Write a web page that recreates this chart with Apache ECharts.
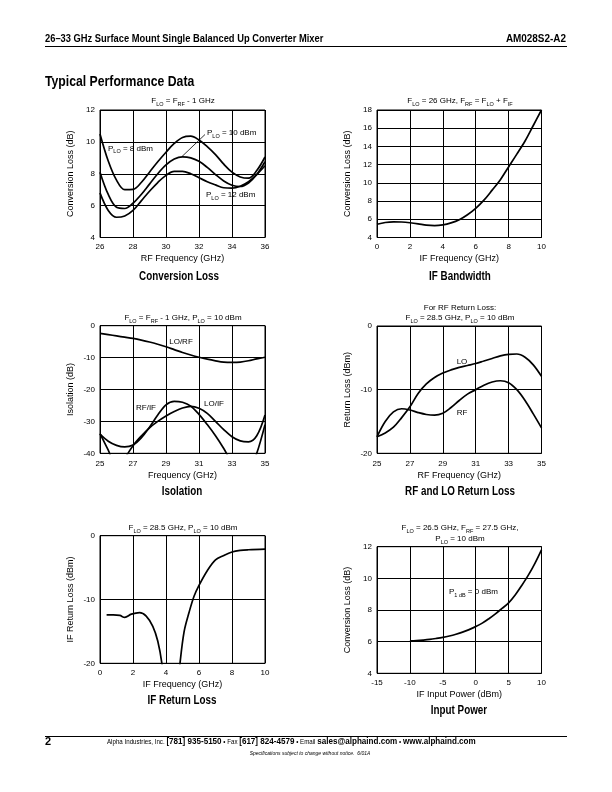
<!DOCTYPE html>
<html><head><meta charset="utf-8">
<script src="https://cdn.jsdelivr.net/npm/echarts@6/dist/echarts.min.js"></script>
<style>html,body{margin:0;padding:0;background:#fff}#c{width:612px;height:792px}</style>
</head><body><div id="c"></div>
<script>
// ---------- DATA ----------
// Conversion Loss vs RF frequency
const clFreq   = [26,26.5,27,27.5,28,28.5,29,29.5,30,30.5,31,31.5,32,32.5,33,33.5,34,34.5,35,35.5,36];
const clPlo8   = [10.5,8.8,7.6,7.0,7.02,7.45,8.1,8.75,9.35,9.9,10.28,10.36,10.12,9.7,9.2,8.6,8.1,7.8,7.72,8.2,9.05];
const clPlo10  = [8.1,6.7,5.9,5.82,6.15,6.7,7.35,8.0,8.55,8.92,9.06,9.0,8.78,8.4,7.95,7.55,7.28,7.2,7.42,7.95,8.75];
const clPlo12  = [6.8,5.7,5.27,5.35,5.7,6.3,6.9,7.45,7.9,8.15,8.15,8.0,7.75,7.5,7.3,7.12,7.1,7.22,7.5,7.95,8.5];
// IF bandwidth
const ifbFreq  = [0,0.5,1,1.5,2,2.5,3,3.5,4,4.5,5,5.5,6,6.5,7,7.5,8,8.5,9,9.5,10];
const ifbLoss  = [5.45,5.65,5.72,5.7,5.62,5.5,5.35,5.3,5.38,5.6,5.95,6.5,7.2,8.1,9.2,10.35,11.75,13.15,14.6,16.3,18.0];
// Isolation
const isoFreq  = [25,25.5,26,26.5,27,27.5,28,28.5,29,29.5,30,30.5,31,31.5,32,32.5,33,33.5,34,34.5,35];
const isoLoRf  = [-2.4,-2.8,-3.2,-3.6,-4.0,-4.5,-5.1,-5.8,-6.6,-7.5,-8.4,-9.2,-9.9,-10.5,-11.0,-11.4,-11.5,-11.4,-11.0,-10.4,-9.9];
const isoRfIf  = [-34.0,-36.2,-37.5,-38.0,-37.4,-35.2,-31.8,-28.0,-24.8,-23.7,-24.0,-25.2,-27.8,-31.0,-34.5,-38.5,-43,-46,-46,-40,-31];
const isoLoIf  = [-33.8,-39.0,-44.5,-41.5,-37.6,-34.6,-32.0,-30.0,-28.3,-26.9,-25.8,-25.3,-25.9,-27.5,-30.0,-32.6,-34.8,-36.1,-36.4,-34.5,-28.0];
// RF and LO return loss
const rlFreq   = [25,25.5,26,26.5,27,27.5,28,28.5,29,29.5,30,30.5,31,31.5,32,32.5,33,33.5,34,34.5,35];
const rlLo     = [-17.4,-16.8,-15.9,-14.4,-12.7,-10.6,-9.1,-8.1,-7.4,-6.9,-6.5,-6.2,-5.9,-5.5,-5.1,-4.7,-4.45,-4.4,-4.9,-6.1,-7.9];
const rlRf     = [-17.4,-15.0,-13.5,-13.0,-13.2,-13.6,-13.9,-14.0,-13.7,-12.8,-11.7,-10.7,-10.0,-9.3,-8.8,-8.6,-8.9,-10.0,-11.7,-13.8,-16.0];
// IF return loss
const ifrlFreq = [0.4,0.8,1.2,1.5,1.9,2.4,2.8,3.2,3.5,3.75,4.0,4.3,4.6,4.85,5.1,5.4,5.7,6.0,6.5,7.0,7.5,8.0,8.5,9.0,10.0];
const ifrlLoss = [-12.4,-12.4,-12.5,-12.8,-12.3,-12.05,-12.6,-14.2,-16.5,-20,-26,-30,-27,-20,-15,-12,-9.5,-7.8,-5.5,-3.8,-3.1,-2.55,-2.3,-2.2,-2.1];
// Input power
const ipPower  = [-10,-9,-8,-7,-6,-5,-4,-3,-2,-1,0,1,2,3,4,5,6,7,8,9,10];
const ipLoss   = [6.05,6.07,6.1,6.14,6.2,6.27,6.36,6.47,6.6,6.76,6.95,7.17,7.45,7.76,8.1,8.45,8.95,9.55,10.2,10.95,11.8];

// ---------- CHART ----------
const F = '"Liberation Sans", Arial, Helvetica, sans-serif';
const zip = (a, b) => a.map((v, i) => [v, b[i]]);

const grids = [
  {left:100, top:110,   width:165,   height:127.5},
  {left:377, top:110,   width:164.5, height:127.5},
  {left:100, top:325.7, width:165,   height:127.6},
  {left:377, top:326,   width:164.5, height:127.3},
  {left:100, top:535.7, width:165,   height:127.6},
  {left:377, top:546.7, width:164.5, height:126.6}
].map(g => Object.assign({show:true, borderColor:'#000', borderWidth:1, backgroundColor:'transparent'}, g));

function xAx(gi, min, max, interval, name, margin, gap) {
  return {type:'value', gridIndex:gi, min, max, interval, name, nameLocation:'middle', nameGap:gap,
    nameTextStyle:{fontFamily:F, fontSize:9, color:'#000'},
    axisLine:{show:false}, axisTick:{show:false},
    axisLabel:{fontFamily:F, fontSize:8, color:'#000', margin},
    splitLine:{show:true, lineStyle:{color:'#000', width:1}}};
}
function yAx(gi, min, max, interval, name, gap) {
  return {type:'value', gridIndex:gi, min, max, interval, name, nameLocation:'middle', nameGap:gap,
    nameTextStyle:{fontFamily:F, fontSize:9, color:'#000'},
    axisLine:{show:false}, axisTick:{show:false},
    axisLabel:{fontFamily:F, fontSize:8, color:'#000', margin:5},
    splitLine:{show:true, lineStyle:{color:'#000', width:1}}};
}
function ln(gi, data) {
  return {type:'line', xAxisIndex:gi, yAxisIndex:gi, data, smooth:0.35, symbol:'none', clip:true,
    lineStyle:{color:'#000', width:1.7}, silent:true, animation:false};
}

const RICH = {s:{fontFamily:F, fontSize:5.5, verticalAlign:'bottom', lineHeight:12, fill:'#000'},
              n:{fontFamily:F, fontSize:8, lineHeight:12, fill:'#000'}};
function T(x, y, text, o) {
  o = o || {};
  return {type:'text', x, y, silent:true, scaleX:o.sx||1,
    style:{text, fill:'#000', font:o.font||('8px '+F), align:o.align||'center', verticalAlign:o.va||'middle', rich:RICH}};
}
const HB = '"Liberation Sans", Arial, sans-serif';

const graphics = [
  // header
  T(45, 39, '26–33 GHz Surface Mount Single Balanced Up Converter Mixer', {font:'bold 10.5px '+HB, align:'left', sx:0.89}),
  T(566, 39, 'AM028S2-A2', {font:'bold 10.5px '+HB, align:'right', sx:0.945}),
  {type:'line', silent:true, shape:{x1:45, y1:46.5, x2:567, y2:46.5}, style:{stroke:'#000', lineWidth:1}},
  T(45, 82, 'Typical Performance Data', {font:'bold 15px '+HB, align:'left', sx:0.815}),
  // chart titles
  T(179, 276.5, 'Conversion Loss', {font:'bold 12px '+F, sx:0.82}),
  T(460, 276.5, 'IF Bandwidth', {font:'bold 12px '+F, sx:0.82}),
  T(182, 491.5, 'Isolation', {font:'bold 12px '+F, sx:0.82}),
  T(460, 491.5, 'RF and LO Return Loss', {font:'bold 12px '+F, sx:0.82}),
  T(182, 701, 'IF Return Loss', {font:'bold 12px '+F, sx:0.82}),
  T(459, 711, 'Input Power', {font:'bold 12px '+F, sx:0.82}),
  // conditions
  T(183, 101, '{n|F}{s|LO}{n| = F}{s|RF}{n| - 1 GHz}'),
  T(460, 101, '{n|F}{s|LO}{n| = 26 GHz, F}{s|RF}{n| = F}{s|LO}{n| + F}{s|IF}'),
  T(183, 318, '{n|F}{s|LO}{n| = F}{s|RF}{n| - 1 GHz, P}{s|LO}{n| = 10 dBm}'),
  T(460, 307.5, 'For RF Return Loss:'),
  T(460, 318, '{n|F}{s|LO}{n| = 28.5 GHz, P}{s|LO}{n| = 10 dBm}'),
  T(183, 528, '{n|F}{s|LO}{n| = 28.5 GHz, P}{s|LO}{n| = 10 dBm}'),
  T(460, 528, '{n|F}{s|LO}{n| = 26.5 GHz, F}{s|RF}{n| = 27.5 GHz,}'),
  T(460, 539, '{n|P}{s|LO}{n| = 10 dBm}'),
  // curve labels
  T(108, 148.5, '{n|P}{s|LO}{n| = 8 dBm}', {align:'left'}),
  T(207, 133, '{n|P}{s|LO}{n| = 10 dBm}', {align:'left'}),
  {type:'line', silent:true, shape:{x1:205, y1:134.5, x2:182, y2:156.5}, style:{stroke:'#000', lineWidth:0.8}},
  T(206, 195, '{n|P}{s|LO}{n| = 12 dBm}', {align:'left'}),
  T(181, 342, 'LO/RF'),
  T(146, 408, 'RF/IF'),
  T(214, 404, 'LO/IF'),
  T(462, 362, 'LO'),
  T(462, 413, 'RF'),
  T(449, 592, '{n|P}{s|1 dB}{n| = 0 dBm}', {align:'left'}),
  // footer
  {type:'line', silent:true, shape:{x1:45, y1:736.5, x2:567, y2:736.5}, style:{stroke:'#000', lineWidth:1}},
  T(45, 742, '2', {font:'bold 11px '+HB, align:'left'}),
  {type:'text', x:107, y:742, scaleX:0.95, silent:true, style:{
    text:'{r|Alpha Industries, Inc. }{b|[781] 935-5150}{r| • Fax }{b|[617] 824-4579}{r| • Email }{b|sales@alphaind.com}{r| • }{b|www.alphaind.com}',
    align:'left', verticalAlign:'middle', fill:'#000',
    rich:{r:{font:'6.5px '+F, fill:'#000'}, b:{font:'bold 8.5px '+HB, fill:'#000'}}}},
  T(310, 753.5, 'Specifications subject to change without notice.  6/01A', {font:'italic 5px '+F})
];

const option = {
  animation:false,
  backgroundColor:'#fff',
  grid:grids,
  xAxis:[
    xAx(0, 26, 36, 2, 'RF Frequency (GHz)', 5.5, 17),
    xAx(1, 0, 10, 2, 'IF Frequency (GHz)', 5.5, 17),
    xAx(2, 25, 35, 2, 'Frequency (GHz)', 6, 18),
    xAx(3, 25, 35, 2, 'RF Frequency (GHz)', 6, 18),
    xAx(4, 0, 10, 2, 'IF Frequency (GHz)', 5.5, 16.5),
    xAx(5, -15, 10, 5, 'IF Input Power (dBm)', 5.5, 17)
  ],
  yAxis:[
    yAx(0, 4, 12, 2, 'Conversion Loss (dB)', 25),
    yAx(1, 4, 18, 2, 'Conversion Loss (dB)', 25),
    yAx(2, -40, 0, 10, 'Isolation (dB)', 25),
    yAx(3, -20, 0, 10, 'Return Loss (dBm)', 25),
    yAx(4, -20, 0, 10, 'IF Return Loss (dBm)', 25),
    yAx(5, 4, 12, 2, 'Conversion Loss (dB)', 25)
  ],
  series:[
    ln(0, zip(clFreq, clPlo8)), ln(0, zip(clFreq, clPlo10)), ln(0, zip(clFreq, clPlo12)),
    ln(1, zip(ifbFreq, ifbLoss)),
    ln(2, zip(isoFreq, isoLoRf)), ln(2, zip(isoFreq, isoRfIf)), ln(2, zip(isoFreq, isoLoIf)),
    ln(3, zip(rlFreq, rlLo)), ln(3, zip(rlFreq, rlRf)),
    ln(4, zip(ifrlFreq, ifrlLoss)),
    ln(5, zip(ipPower, ipLoss))
  ],
  graphic:graphics
};
const chart = echarts.init(document.getElementById('c'), null, {renderer:'canvas'});
chart.setOption(option);
</script></body></html>
